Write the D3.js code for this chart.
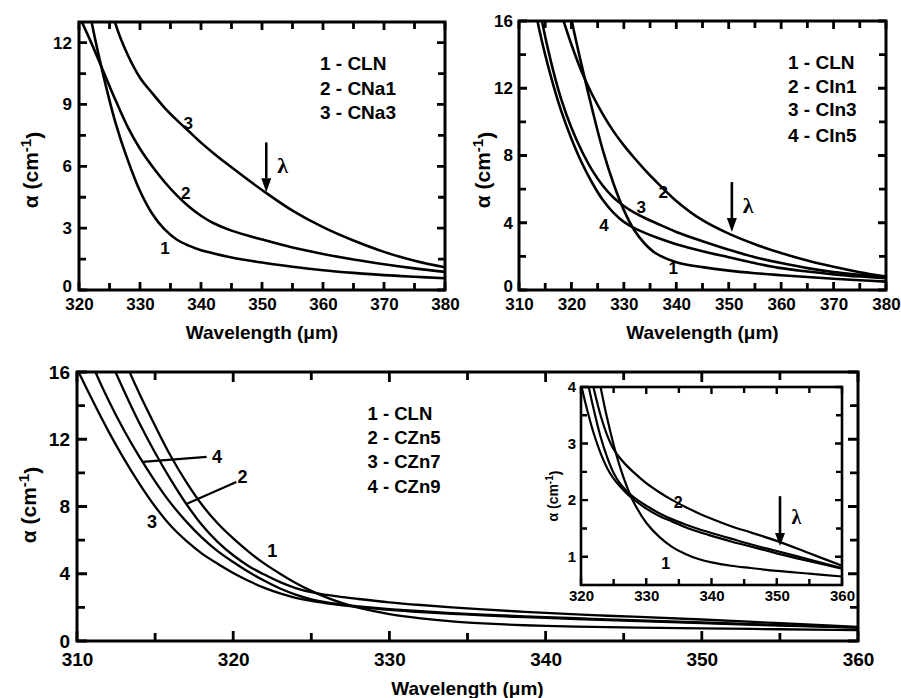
<!DOCTYPE html>
<html>
<head>
<meta charset="utf-8">
<script src="https://cdn.jsdelivr.net/npm/d3@7"></script>
<style>
  html, body { margin: 0; padding: 0; background: #fff; }
  svg { display: block; }
  text { font-family: "Liberation Sans", Arial, Helvetica, sans-serif; font-weight: bold; fill: #000; }
</style>
</head>
<body>
<svg id="chart" width="901" height="698"></svg>
<script>
// ---------------- DATA ----------------
const tlWavelength = [320, 322, 324, 326, 328, 330, 332, 334, 336, 338, 340, 342, 345, 350, 355, 360, 365, 370, 375, 380];
const tlCLN  = [16.5, 13.1, 10.4, 8.1, 6.3, 4.8, 3.7, 2.95, 2.45, 2.15, 1.93, 1.78, 1.58, 1.33, 1.13, 0.96, 0.83, 0.72, 0.64, 0.57];
const tlCNa1 = [13.3, 12.0, 10.6, 9.2, 7.9, 6.85, 6.0, 5.25, 4.6, 4.05, 3.6, 3.25, 2.88, 2.45, 2.06, 1.75, 1.48, 1.25, 1.05, 0.88];
const tlCNa3 = [22.0, 18.5, 15.5, 12.9, 11.4, 10.3, 9.55, 8.85, 8.25, 7.7, 7.15, 6.65, 5.95, 4.85, 3.85, 3.05, 2.4, 1.85, 1.42, 1.1];
const tlLegend = ["1 - CLN", "2 - CNa1", "3 - CNa3"];
const tlXTicks = [320, 330, 340, 350, 360, 370, 380];
const tlYTicks = [0, 3, 6, 9, 12];

const trWavelength = [312, 314, 316, 318, 320, 322, 324, 326, 328, 330, 332, 334, 336, 340, 345, 350, 355, 360, 365, 370, 375, 380];
const trCLN  = [33, 27.5, 23, 19.4, 16.1, 13.3, 10.7, 8.3, 6.35, 4.75, 3.55, 2.75, 2.2, 1.65, 1.36, 1.15, 1.0, 0.88, 0.77, 0.67, 0.58, 0.5];
const trCIn1 = [24, 21.0, 18.6, 16.5, 14.6, 12.95, 11.6, 10.45, 9.45, 8.6, 7.85, 7.15, 6.5, 5.3, 4.15, 3.35, 2.72, 2.2, 1.75, 1.38, 1.06, 0.8];
const trCIn3 = [20.5, 16.6, 13.7, 11.4, 9.65, 8.25, 7.1, 6.2, 5.5, 5.0, 4.6, 4.28, 4.0, 3.45, 2.9, 2.4, 1.95, 1.6, 1.3, 1.07, 0.9, 0.76];
const trCIn5 = [18.5, 15.3, 12.8, 10.7, 9.0, 7.55, 6.35, 5.35, 4.6, 4.05, 3.68, 3.4, 3.15, 2.72, 2.3, 1.95, 1.6, 1.3, 1.1, 0.93, 0.8, 0.7];
const trLegend = ["1 - CLN", "2 - CIn1", "3 - CIn3", "4 - CIn5"];
const trXTicks = [310, 320, 330, 340, 350, 360, 370, 380];
const trYTicks = [0, 4, 8, 12, 16];

const bWavelength = [309, 310, 311, 312, 313, 314, 315, 316, 317, 318, 319, 320, 321, 322, 323, 324, 325, 326, 327, 328, 330, 332, 334, 336, 338, 340, 343, 346, 350, 355, 360];
const bCLN  = [28, 25, 22, 19.2, 16.8, 14.7, 12.8, 11.0, 9.45, 8.1, 7.0, 6.1, 5.3, 4.6, 4.0, 3.45, 2.98, 2.58, 2.25, 1.98, 1.6, 1.35, 1.17, 1.05, 0.96, 0.9, 0.84, 0.8, 0.75, 0.7, 0.65];
const bCZn5 = [25, 22.2, 19.5, 17.0, 14.9, 12.95, 11.2, 9.6, 8.15, 6.9, 5.9, 5.1, 4.45, 3.95, 3.5, 3.15, 2.9, 2.74, 2.61, 2.5, 2.3, 2.14, 2.0, 1.88, 1.77, 1.67, 1.54, 1.43, 1.28, 1.06, 0.84];
const bCZn7 = [18.2, 16.2, 14.3, 12.5, 10.85, 9.35, 8.0, 6.85, 5.95, 5.2, 4.6, 4.05, 3.57, 3.16, 2.83, 2.57, 2.38, 2.24, 2.12, 2.02, 1.85, 1.72, 1.62, 1.52, 1.44, 1.37, 1.27, 1.18, 1.06, 0.92, 0.79];
const bCZn9 = [21.5, 19.0, 16.4, 14.35, 12.55, 10.95, 9.5, 8.2, 7.1, 6.15, 5.35, 4.7, 4.1, 3.58, 3.12, 2.76, 2.48, 2.29, 2.16, 2.06, 1.9, 1.77, 1.66, 1.57, 1.49, 1.42, 1.32, 1.22, 1.1, 0.95, 0.8];
const bLegend = ["1 - CLN", "2 - CZn5", "3 - CZn7", "4 - CZn9"];
const bXTicks = [310, 320, 330, 340, 350, 360];
const bYTicks = [0, 4, 8, 12, 16];
const insetXTicks = [320, 330, 340, 350, 360];
const insetYTicks = [1, 2, 3, 4];

const xTitle = "Wavelength (\u03bcm)";

// ---------------- DRAWING ----------------
const svg = d3.select("#chart");
let clipCount = 0;

function steps(a, b, s) {
  const n = Math.round((b - a) / s);
  return d3.range(n + 1).map(i => +(a + i * s).toFixed(4));
}

function panel(cfg) {
  const x = d3.scaleLinear().domain(cfg.xDomain).range([cfg.left, cfg.right]);
  const y = d3.scaleLinear().domain(cfg.yDomain).range([cfg.bottom, cfg.top]);
  const g = svg.append("g");
  if (cfg.bg) g.append("rect").attr("x", cfg.left - 30).attr("y", cfg.top - 2)
      .attr("width", cfg.right - cfg.left + 34).attr("height", cfg.bottom - cfg.top + 25).attr("fill", "#fff");

  const id = "clip" + (clipCount++);
  svg.append("clipPath").attr("id", id).append("rect")
    .attr("x", cfg.left).attr("y", cfg.top).attr("width", cfg.right - cfg.left).attr("height", cfg.bottom - cfg.top);

  const line = d3.line().curve(d3.curveCatmullRom.alpha(0.5)).x(d => x(d[0])).y(d => y(d[1]));
  cfg.series.forEach(s => {
    g.append("path").datum(cfg.wl.map((w, i) => [w, s[i]]))
      .attr("d", line).attr("fill", "none").attr("stroke", "#000")
      .attr("stroke-width", cfg.lw).attr("stroke-linejoin", "round")
      .attr("clip-path", `url(#${id})`);
  });

  const clean = (sel, fs) => {
    sel.select(".domain").remove();
    sel.selectAll(".tick line").remove();
    sel.selectAll("text").attr("font-size", fs + "px").attr("fill", "#000");
    sel.attr("font-family", null).attr("font-size", null);
  };
  g.append("g").attr("transform", `translate(0,${cfg.bottom})`)
    .call(d3.axisBottom(x).tickValues(cfg.xTicks).tickSize(0).tickPadding(cfg.xPad).tickFormat(d3.format("d")))
    .call(s => clean(s, cfg.fs));
  const ya = g.append("g").attr("transform", `translate(${cfg.left},0)`)
    .call(d3.axisLeft(y).tickValues(cfg.yTicks).tickSize(0).tickPadding(cfg.yPad).tickFormat(d3.format("d")))
    .call(s => clean(s, cfg.fs));
  if (cfg.zeroShift) ya.selectAll(".tick").filter(d => d === 0).select("text").attr("dy", cfg.zeroShift);

  // frame + inward ticks in one stroked path
  const minorX = steps(cfg.xDomain[0], cfg.xDomain[1], cfg.xMinor).filter(v => cfg.xTicks.indexOf(v) < 0);
  const yStart = (cfg.yMinorStart !== undefined) ? cfg.yMinorStart : cfg.yDomain[0];
  const minorY = steps(yStart, cfg.yDomain[1], cfg.yMinor)
    .filter(v => cfg.yTicks.indexOf(v) < 0 && v > cfg.yDomain[0] && v < cfg.yDomain[1]);
  const p = d3.path();
  cfg.xTicks.map(v => [v, cfg.tMaj]).concat(minorX.map(v => [v, cfg.tMin])).forEach(([v, len]) => {
    const px = x(v);
    p.moveTo(px, cfg.bottom); p.lineTo(px, cfg.bottom - len);
    p.moveTo(px, cfg.top); p.lineTo(px, cfg.top + len);
  });
  cfg.yTicks.map(v => [v, cfg.tMaj]).concat(minorY.map(v => [v, cfg.tMin])).forEach(([v, len]) => {
    const py = y(v);
    p.moveTo(cfg.left, py); p.lineTo(cfg.left + len, py);
    p.moveTo(cfg.right, py); p.lineTo(cfg.right - len, py);
  });
  g.append("path").attr("d", p.toString()).attr("fill", "none").attr("stroke", "#000").attr("stroke-width", cfg.tw);
  g.append("rect").attr("x", cfg.left).attr("y", cfg.top)
    .attr("width", cfg.right - cfg.left).attr("height", cfg.bottom - cfg.top)
    .attr("fill", "none").attr("stroke", "#000").attr("stroke-width", cfg.fw);

  if (cfg.xTitleY) {
    g.append("text").attr("x", (cfg.left + cfg.right) / 2).attr("y", cfg.xTitleY)
      .attr("text-anchor", "middle").attr("font-size", cfg.titleFs + "px").text(xTitle);
  }
  const yt = g.append("text").attr("transform", `translate(${cfg.yTitleX},${cfg.yTitleY}) rotate(-90)`)
    .attr("text-anchor", "middle").attr("font-size", cfg.yTitleFs + "px");
  yt.append("tspan").text("\u03b1 (cm");
  yt.append("tspan").attr("dy", "-0.45em").attr("font-size", (cfg.yTitleFs * 0.72) + "px").text("-1");
  yt.append("tspan").attr("dy", "0.45em").text(")");

  if (cfg.legend) {
    cfg.legend.forEach((txt, i) => {
      g.append("text").attr("x", x(cfg.legendX)).attr("y", y(cfg.legendY[i]))
        .attr("dy", "0.36em").attr("font-size", cfg.legendFs + "px").text(txt);
    });
  }
  (cfg.labels || []).forEach(l => {
    g.append("text").attr("x", x(l[1])).attr("y", y(l[2])).attr("dy", "0.36em")
      .attr("text-anchor", "middle").attr("font-size", cfg.labelFs + "px").text(l[0]);
  });
  (cfg.leaders || []).forEach(l => {
    const i = cfg.wl.findIndex(wv => wv >= l.fromX);
    const s = cfg.series[l.series];
    const w0 = cfg.wl[i - 1], w1 = cfg.wl[i];
    const v = s[i - 1] + (s[i] - s[i - 1]) * (l.fromX - w0) / (w1 - w0);
    g.append("line").attr("x1", x(l.fromX)).attr("y1", y(v))
      .attr("x2", x(l.toX)).attr("y2", y(l.toY))
      .attr("stroke", "#000").attr("stroke-width", 2.2);
  });
  if (cfg.arrow) {
    const a = cfg.arrow;
    const ax = x(a.x), y1 = y(a.y1), y2 = y(a.y2);
    g.append("line").attr("x1", ax).attr("x2", ax).attr("y1", y1).attr("y2", y2 - a.head)
      .attr("stroke", "#000").attr("stroke-width", 2.6);
    g.append("path").attr("d", `M${ax - a.hw},${y2 - a.head} L${ax + a.hw},${y2 - a.head} L${ax},${y2} Z`).attr("fill", "#000");
    g.append("text").attr("x", x(a.lx)).attr("y", y(a.ly)).attr("dy", "0.36em")
      .attr("text-anchor", "middle").attr("font-size", a.fs + "px")
      .style("font-family", "'Liberation Serif', 'DejaVu Serif', serif").text("\u03bb");
  }
  return { x, y };
}

panel({
  left: 79, right: 445, top: 22, bottom: 290,
  xDomain: [320, 380], yDomain: [0, 13],
  xTicks: tlXTicks, yTicks: tlYTicks, xMinor: 5, yMinor: 1.5,
  wl: tlWavelength, series: [tlCLN, tlCNa1, tlCNa3], lw: 2.6,
  tMaj: 8, tMin: 7, tw: 2.8, fw: 3, fs: 17, xPad: 8, yPad: 7, zeroShift: "0.1em",
  xTitleY: 339, titleFs: 19, yTitleX: 38, yTitleY: 170, yTitleFs: 21,
  legend: tlLegend, legendX: 359.5, legendY: [10.98, 9.77, 8.61], legendFs: 19,
  labels: [["3", 337.9, 8.1], ["2", 337.5, 4.69], ["1", 334.1, 2.03]], labelFs: 17,
  arrow: { x: 350.7, y1: 7.16, y2: 4.74, head: 14, hw: 5, lx: 353.4, ly: 6.05, fs: 22 }
});

panel({
  left: 519, right: 886, top: 21, bottom: 290,
  xDomain: [310, 380], yDomain: [0, 16],
  xTicks: trXTicks, yTicks: trYTicks, xMinor: 5, yMinor: 2,
  wl: trWavelength, series: [trCLN, trCIn1, trCIn3, trCIn5], lw: 2.6,
  tMaj: 8, tMin: 7, tw: 2.8, fw: 3, fs: 17, xPad: 8, yPad: 6, zeroShift: "0.1em",
  xTitleY: 339, titleFs: 19, yTitleX: 490, yTitleY: 170, yTitleFs: 21,
  legend: trLegend, legendX: 361.3, legendY: [13.56, 12.14, 10.77, 9.22], legendFs: 19,
  labels: [["2", 337.5, 5.83], ["3", 333.3, 4.95], ["4", 326.2, 3.87], ["1", 339.4, 1.31]], labelFs: 17,
  arrow: { x: 350.6, y1: 6.42, y2: 3.45, head: 14, hw: 5, lx: 353.7, ly: 5.06, fs: 22 }
});

panel({
  left: 77, right: 858, top: 372, bottom: 641,
  xDomain: [310, 360], yDomain: [0, 16],
  xTicks: bXTicks, yTicks: bYTicks, xMinor: 5, yMinor: 2,
  wl: bWavelength, series: [bCLN, bCZn5, bCZn7, bCZn9], lw: 2.3,
  tMaj: 10, tMin: 8, tw: 2.8, fw: 3, fs: 19, xPad: 12, yPad: 7,
  xTitleY: 695, titleFs: 19, yTitleX: 36, yTitleY: 505, yTitleFs: 21,
  legend: bLegend, legendX: 328.6, legendY: [13.56, 12.14, 10.71, 9.22], legendFs: 18.5,
  labels: [["4", 318.96, 10.95], ["2", 320.6, 9.76], ["3", 314.8, 7.08], ["1", 322.5, 5.41]], labelFs: 18,
  leaders: [{ series: 3, fromX: 314.2, toX: 318.3, toY: 10.95 }, { series: 1, fromX: 317.0, toX: 320.2, toY: 9.46 }]
});

panel({
  bg: true,
  left: 581, right: 842, top: 387, bottom: 585,
  xDomain: [320, 360], yDomain: [0.5, 4],
  xTicks: insetXTicks, yTicks: insetYTicks, xMinor: 5, yMinor: 0.5, yMinorStart: 0.5,
  wl: bWavelength, series: [bCLN, bCZn5, bCZn7, bCZn9], lw: 2.2,
  tMaj: 7, tMin: 6, tw: 2.4, fw: 2.6, fs: 15, xPad: 5, yPad: 5,
  xTitleY: null, yTitleX: 558, yTitleY: 496, yTitleFs: 14,
  labels: [["2", 334.9, 1.96], ["1", 333.0, 0.88]], labelFs: 16,
  arrow: { x: 350.5, y1: 2.07, y2: 1.19, head: 13, hw: 5, lx: 353.0, ly: 1.70, fs: 20 }
});
</script>
</body>
</html>
